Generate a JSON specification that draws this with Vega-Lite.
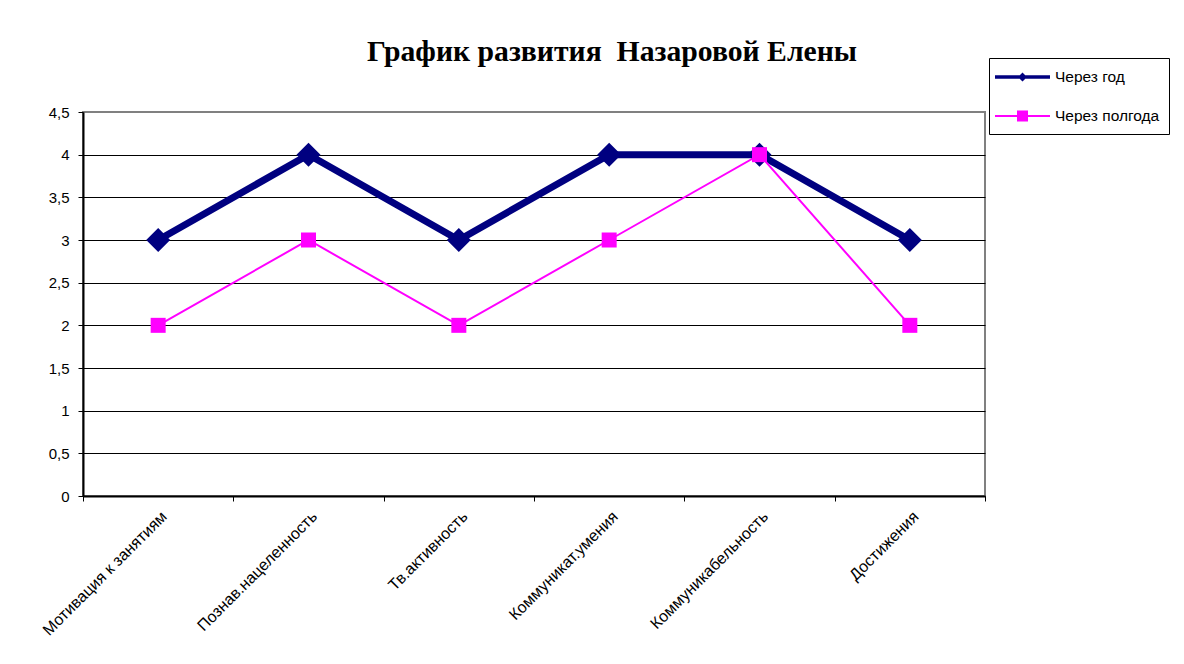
{
  "$schema": "https://vega.github.io/schema/vega-lite/v6.json",
  "width": 902,
  "height": 384,
  "autosize": {"type": "none"},
  "padding": {"left": 83, "top": 112, "right": 199, "bottom": 168},
  "background": "white",
  "title": {
    "text": "График развития\u00a0 Назаровой Елены",
    "font": "Liberation Serif",
    "fontSize": 29.7,
    "fontWeight": "bold",
    "color": "black",
    "anchor": "middle",
    "dx": 78,
    "offset": -10
  },
  "config": {
    "view": {"stroke": "#808080", "strokeWidth": 2},
    "axis": {
      "labelFont": "Liberation Sans",
      "labelFontSize": 15,
      "labelColor": "black",
      "domainColor": "black",
      "domainWidth": 2,
      "tickColor": "black",
      "tickSize": 5,
      "tickWidth": 1,
      "title": null
    },
    "legend": {
      "labelFont": "Liberation Sans",
      "labelFontSize": 15.5,
      "labelColor": "black"
    }
  },
  "data": {
    "values": [
      {"category": "Мотивация к занятиям", "series": "Через год", "value": 3},
      {"category": "Познав.нацеленность", "series": "Через год", "value": 4},
      {"category": "Тв.активность", "series": "Через год", "value": 3},
      {"category": "Коммуникат.умения", "series": "Через год", "value": 4},
      {"category": "Коммуникабельность", "series": "Через год", "value": 4},
      {"category": "Достижения", "series": "Через год", "value": 3},
      {"category": "Мотивация к занятиям", "series": "Через полгода", "value": 2},
      {"category": "Познав.нацеленность", "series": "Через полгода", "value": 3},
      {"category": "Тв.активность", "series": "Через полгода", "value": 2},
      {"category": "Коммуникат.умения", "series": "Через полгода", "value": 3},
      {"category": "Коммуникабельность", "series": "Через полгода", "value": 4},
      {"category": "Достижения", "series": "Через полгода", "value": 2}
    ]
  },
  "encoding": {
    "x": {
      "field": "category",
      "type": "nominal",
      "sort": null,
      "scale": {"type": "band", "paddingInner": 0, "paddingOuter": 0},
      "axis": {
        "labelAngle": -45,
        "labelFontSize": 16,
        "labelPadding": 7,
        "tickBand": "extent",
        "grid": false
      }
    },
    "y": {
      "field": "value",
      "type": "quantitative",
      "scale": {"domain": [0, 4.5], "nice": false, "zero": true},
      "axis": {
        "values": [0, 0.5, 1, 1.5, 2, 2.5, 3, 3.5, 4, 4.5],
        "labelExpr": "replace(format(datum.value, '~g'), '.', ',')",
        "labelPadding": 9,
        "grid": true,
        "gridColor": {"condition": {"test": "datum.value >= 4.5", "value": "#808080"}, "value": "black"},
        "gridWidth": 1
      }
    }
  },
  "layer": [
    {
      "transform": [{"filter": "datum.series === 'Через год'"}],
      "mark": {"type": "line", "color": "#000080", "strokeWidth": 7}
    },
    {
      "transform": [{"filter": "datum.series === 'Через год'"}],
      "mark": {"type": "point", "shape": "diamond", "size": 576, "filled": true, "color": "#000080", "opacity": 1}
    },
    {
      "transform": [{"filter": "datum.series === 'Через полгода'"}],
      "mark": {"type": "line", "color": "#FF00FF", "strokeWidth": 2}
    },
    {
      "transform": [{"filter": "datum.series === 'Через полгода'"}],
      "mark": {"type": "point", "shape": "square", "size": 225, "filled": true, "color": "#FF00FF", "opacity": 1}
    },
    {
      "transform": [{"filter": "datum.value < 0"}],
      "mark": {"type": "point", "filled": true, "opacity": 1},
      "encoding": {
        "color": {
          "field": "series",
          "type": "nominal",
          "scale": {"domain": ["Через год", "Через полгода"], "range": ["#000080", "#FF00FF"]},
          "legend": {
            "title": null,
            "orient": "none",
            "legendX": 906,
            "legendY": -54,
            "fillColor": "white",
            "strokeColor": "black",
            "padding": 9,
            "symbolSize": 400,
            "symbolStrokeWidth": 0,
            "symbolOpacity": 1,
            "rowPadding": 20,
            "labelOffset": 37
          }
        },
        "shape": {
          "field": "series",
          "type": "nominal",
          "scale": {
            "domain": ["Через год", "Через полгода"],
            "range": [
              "M-1.3,-0.17H4.2V0.17H-1.3Z M1.45,-0.45L1.9,0L1.45,0.45L1,0Z",
              "M-1.3,-0.1H4.2V0.1H-1.3Z M0.9,-0.55H2V0.55H0.9Z"
            ]
          },
          "legend": {
            "title": null,
            "orient": "none",
            "legendX": 906,
            "legendY": -54
          }
        }
      }
    }
  ]
}
